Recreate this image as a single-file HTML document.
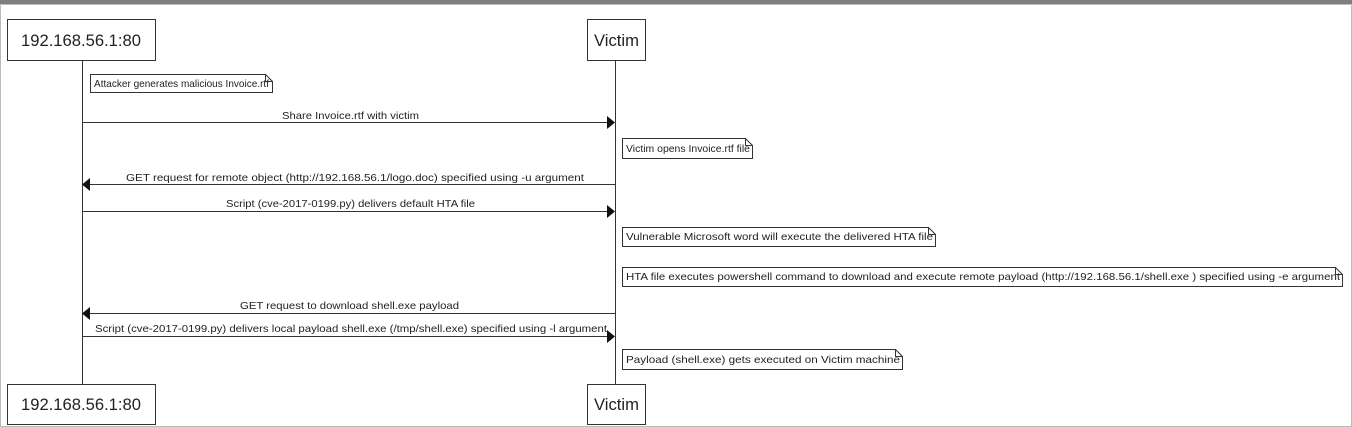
<!DOCTYPE html>
<html><head><style>
html,body{margin:0;padding:0;background:#fff;}
svg{display:block;}
text{font-family:"Liberation Sans",Arial,sans-serif;fill:#222;}
.s{font-size:10.5px;}
.p{font-size:17px;}
</style></head><body>
<svg width="1352" height="427" viewBox="0 0 1352 427" xmlns="http://www.w3.org/2000/svg">
<rect x="0" y="0" width="1352" height="427" fill="#fff"/>
<rect x="0" y="0" width="1352" height="5" fill="#7f7f7f"/>
<rect x="0.5" y="4.5" width="1351" height="422" fill="none" stroke="#bbb" stroke-width="1"/>
<g stroke="#333" stroke-width="1" fill="none">
<line x1="82.5" y1="61" x2="82.5" y2="384"/>
<line x1="615.5" y1="61" x2="615.5" y2="384"/>
<rect x="7.5" y="19.5" width="148" height="41" fill="#fff"/>
<rect x="587.5" y="19.5" width="58" height="41" fill="#fff"/>
<rect x="7.5" y="384.5" width="148" height="40" fill="#fff"/>
<rect x="587.5" y="384.5" width="58" height="40" fill="#fff"/>
<!-- arrows -->
<line x1="82" y1="122.5" x2="607" y2="122.5"/>
<line x1="90" y1="184.5" x2="615" y2="184.5"/>
<line x1="82" y1="211.5" x2="607" y2="211.5"/>
<line x1="90" y1="313.5" x2="615" y2="313.5"/>
<line x1="82" y1="336.5" x2="607" y2="336.5"/>
<!-- notes -->
<path d="M90.5 74.5 H265.5 L272.5 81.5 V92.5 H90.5 Z M265.5 74.5 V81.5 H272.5" fill="#fff"/>
<path d="M622.5 138.5 H745.5 L752.5 145.5 V158.5 H622.5 Z M745.5 138.5 V145.5 H752.5" fill="#fff"/>
<path d="M622.5 227.5 H928.5 L935.5 234.5 V246.5 H622.5 Z M928.5 227.5 V234.5 H935.5" fill="#fff"/>
<path d="M622.5 267.5 H1335.5 L1342.5 274.5 V286.5 H622.5 Z M1335.5 267.5 V274.5 H1342.5" fill="#fff"/>
<path d="M622.5 349.5 H895.5 L902.5 356.5 V369.5 H622.5 Z M895.5 349.5 V356.5 H902.5" fill="#fff"/>
</g>
<g fill="#111">
<polygon points="607,116 615,122.5 607,129"/>
<polygon points="90,178 82,184.5 90,191"/>
<polygon points="607,205 615,211.5 607,218"/>
<polygon points="90,307 82,313.5 90,320"/>
<polygon points="607,330 615,336.5 607,343"/>
</g>
<text class="p" x="21" y="46" textLength="120" lengthAdjust="spacingAndGlyphs">192.168.56.1:80</text>
<text class="p" x="594" y="46" textLength="45" lengthAdjust="spacingAndGlyphs">Victim</text>
<text class="p" x="21" y="410" textLength="120" lengthAdjust="spacingAndGlyphs">192.168.56.1:80</text>
<text class="p" x="594" y="410" textLength="45" lengthAdjust="spacingAndGlyphs">Victim</text>

<text class="s" x="94" y="87" textLength="175" lengthAdjust="spacingAndGlyphs">Attacker generates malicious Invoice.rtf</text>
<text class="s" x="282" y="119" textLength="137" lengthAdjust="spacingAndGlyphs">Share Invoice.rtf with victim</text>
<text class="s" x="626" y="152" textLength="124" lengthAdjust="spacingAndGlyphs">Victim opens Invoice.rtf file</text>
<text class="s" x="126" y="181" textLength="458" lengthAdjust="spacingAndGlyphs">GET request for remote object (http://192.168.56.1/logo.doc) specified using -u argument</text>
<text class="s" x="226" y="207" textLength="249" lengthAdjust="spacingAndGlyphs">Script (cve-2017-0199.py) delivers default HTA file</text>
<text class="s" x="626" y="240" textLength="307" lengthAdjust="spacingAndGlyphs">Vulnerable Microsoft word will execute the delivered HTA file</text>
<text class="s" x="626" y="280" textLength="714" lengthAdjust="spacingAndGlyphs">HTA file executes powershell command to download and execute remote payload (http://192.168.56.1/shell.exe ) specified using -e argument</text>
<text class="s" x="240" y="309" textLength="219" lengthAdjust="spacingAndGlyphs">GET request to download shell.exe payload</text>
<text class="s" x="95" y="332" textLength="512" lengthAdjust="spacingAndGlyphs">Script (cve-2017-0199.py) delivers local payload shell.exe (/tmp/shell.exe) specified using -l argument</text>
<text class="s" x="626" y="363" textLength="274" lengthAdjust="spacingAndGlyphs">Payload (shell.exe) gets executed on Victim machine</text>
</svg>
</body></html>
